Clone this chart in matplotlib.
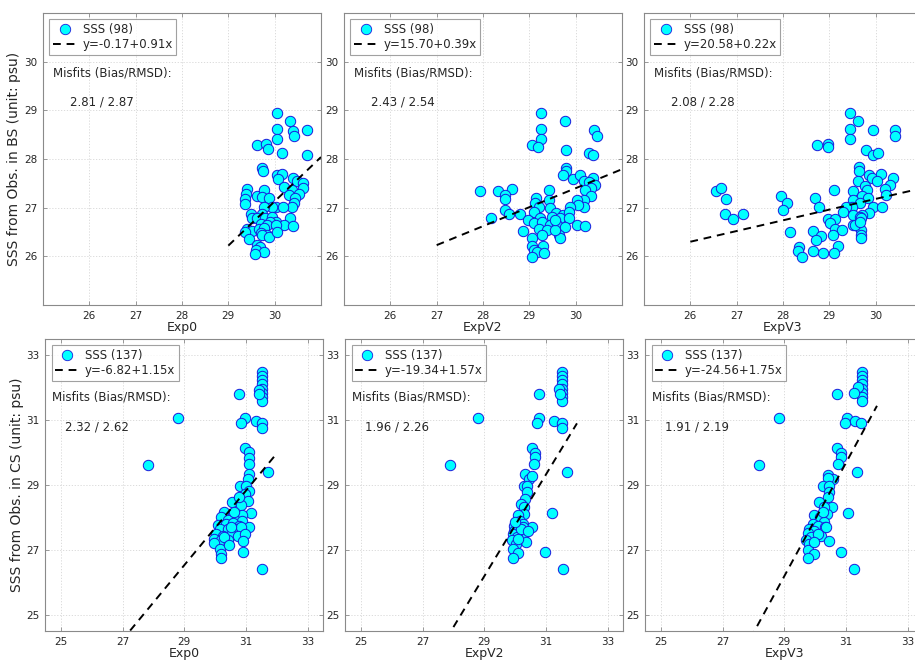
import matplotlib
matplotlib.use("Agg")
import matplotlib.pyplot as plt
from matplotlib.lines import Line2D

# ---------------- data ----------------
# Top row: BS observations (98 points)
bs_exp0_x = [30.04, 30.34, 30.04, 30.39, 30.41, 30.69, 30.04, 29.61, 29.82, 29.86, 30.15, 30.69,
             29.73, 29.75, 30.04, 30.16, 30.08, 30.40, 30.48, 30.61, 30.61, 30.20, 30.38, 30.52,
             30.31, 30.43, 30.41, 30.38, 29.40, 29.38, 29.35, 29.35, 29.62, 29.77, 29.73, 29.88,
             30.02, 30.18, 29.95, 29.77, 29.48, 29.50, 29.73, 29.62, 29.80, 29.95, 30.02, 29.91,
             29.70, 29.84, 30.34, 30.20, 30.40, 29.40, 29.50, 29.66, 29.78, 29.35, 29.70, 29.84,
             29.73, 29.45, 29.88, 29.62, 29.69, 29.59, 29.77, 29.57, 30.02, 30.06]
bs_exp0_y = [28.95, 28.78, 28.62, 28.58, 28.48, 28.60, 28.42, 28.28, 28.31, 28.20, 28.12, 28.09,
             27.81, 27.76, 27.67, 27.69, 27.58, 27.60, 27.54, 27.50, 27.40, 27.42, 27.36, 27.29,
             27.26, 27.19, 27.10, 27.01, 27.38, 27.28, 27.17, 27.08, 27.23, 27.36, 27.21, 27.19,
             27.01, 27.01, 27.01, 27.01, 26.88, 26.78, 26.88, 26.78, 26.78, 26.81, 26.71, 26.71,
             26.66, 26.64, 26.78, 26.64, 26.62, 26.57, 26.53, 26.57, 26.59, 26.51, 26.47, 26.44,
             26.44, 26.35, 26.40, 26.23, 26.20, 26.13, 26.09, 26.04, 26.64, 26.51]

bs_expv2_x = [29.25, 29.76, 29.25, 30.39, 30.45, 29.25, 29.06, 29.18, 29.80, 30.29, 30.38, 29.80,
              29.80, 29.73, 29.94, 30.09, 30.17, 30.38, 30.29, 30.42, 30.34, 30.20, 30.34, 30.17,
              30.02, 30.18, 30.04, 29.88, 27.93, 28.32, 28.62, 28.48, 28.48, 29.43, 29.14, 29.43,
              29.12, 29.20, 28.48, 28.57, 28.79, 28.17, 29.09, 29.45, 29.58, 29.72, 29.86, 29.48,
              29.66, 29.86, 29.23, 28.98, 29.09, 29.27, 29.45, 29.60, 29.77, 30.02, 30.20, 29.20,
              29.38, 28.86, 29.27, 29.65, 29.67, 29.05, 29.05, 29.30, 29.09, 29.16, 29.32, 29.05,
              29.55, 29.55]
bs_expv2_y = [28.95, 28.78, 28.62, 28.60, 28.48, 28.42, 28.28, 28.24, 28.19, 28.12, 28.09, 27.81,
              27.76, 27.67, 27.58, 27.67, 27.55, 27.60, 27.52, 27.47, 27.40, 27.36, 27.23, 27.16,
              27.16, 27.02, 27.05, 27.02, 27.34, 27.35, 27.39, 27.26, 27.17, 27.36, 27.19, 27.16,
              27.09, 27.01, 26.95, 26.88, 26.88, 26.78, 26.92, 26.99, 26.90, 26.85, 26.92, 26.81,
              26.78, 26.78, 26.78, 26.75, 26.68, 26.71, 26.64, 26.64, 26.61, 26.64, 26.62, 26.57,
              26.54, 26.53, 26.44, 26.44, 26.37, 26.37, 26.21, 26.21, 26.13, 26.09, 26.07, 25.99,
              26.54, 26.75]

bs_expv3_x = [29.44, 29.62, 29.44, 29.94, 30.41, 30.42, 29.44, 28.73, 28.97, 28.97, 29.80, 29.94,
              30.06, 29.63, 29.65, 29.86, 29.93, 30.11, 30.03, 30.37, 29.62, 29.78, 30.30, 30.21,
              30.23, 29.81, 29.51, 29.10, 29.71, 29.83, 29.51, 29.66, 29.48, 29.35, 29.94, 30.14,
              29.86, 29.71, 29.51, 29.30, 29.66, 29.69, 26.56, 26.67, 26.77, 26.75, 26.93, 27.13,
              27.95, 28.08, 28.00, 28.70, 28.78, 28.15, 28.97, 29.12, 29.01, 29.12, 29.27, 29.51,
              29.62, 29.69, 29.69, 29.69, 29.56, 29.08, 28.65, 28.83, 28.71, 29.19, 29.10, 28.87,
              28.64, 28.35, 28.33, 28.40, 29.66]
bs_expv3_y = [28.95, 28.78, 28.62, 28.60, 28.59, 28.48, 28.42, 28.28, 28.31, 28.24, 28.19, 28.08,
              28.12, 27.83, 27.76, 27.67, 27.60, 27.69, 27.55, 27.60, 27.54, 27.45, 27.47, 27.39,
              27.27, 27.36, 27.35, 27.36, 27.23, 27.19, 27.16, 27.09, 27.02, 27.01, 27.02, 27.01,
              26.90, 26.85, 26.85, 26.92, 26.80, 26.78, 27.35, 27.40, 27.18, 26.88, 26.77, 26.88,
              27.23, 27.09, 26.95, 27.19, 27.01, 26.51, 26.77, 26.76, 26.68, 26.57, 26.54, 26.64,
              26.62, 26.54, 26.44, 26.37, 26.64, 26.44, 26.53, 26.42, 26.33, 26.21, 26.07, 26.07,
              26.11, 26.20, 26.11, 25.99, 26.71]

# Bottom row: CS observations (137 points)
cs_exp0_x = [31.52, 31.52, 31.52, 31.52, 31.52, 31.52, 31.52, 31.52, 31.43, 31.41, 30.76, 28.80,
             27.83, 30.97, 30.82, 31.32, 31.52, 31.52, 30.95, 31.08, 31.09, 31.09, 31.70, 31.09,
             31.05, 30.81, 31.00, 31.11, 30.95, 31.05, 30.55, 30.84, 31.16, 30.30, 30.57, 30.87,
             30.19, 30.41, 30.68, 30.87, 30.08, 30.35, 30.57, 30.78, 31.09, 30.14, 30.41, 30.68,
             30.84, 30.03, 30.24, 30.51, 30.73, 30.95, 29.97, 30.19, 30.41, 30.91, 29.97, 30.30,
             30.14, 30.46, 30.89, 30.19, 30.19, 31.52, 30.51, 30.62, 30.78]
cs_exp0_y = [32.49, 32.36, 32.23, 32.11, 31.95, 31.85, 31.72, 31.59, 31.92, 31.80, 31.79, 31.08,
             29.62, 31.05, 30.90, 30.98, 30.90, 30.77, 30.14, 30.01, 29.83, 29.65, 29.39, 29.34,
             29.18, 28.96, 28.98, 28.83, 28.72, 28.52, 28.49, 28.39, 28.13, 28.16, 28.06, 28.09,
             28.01, 27.92, 27.90, 27.90, 27.78, 27.80, 27.82, 27.75, 27.70, 27.65, 27.65, 27.65,
             27.70, 27.49, 27.44, 27.47, 27.44, 27.49, 27.34, 27.31, 27.29, 27.26, 27.21, 27.39,
             27.03, 27.15, 26.95, 26.88, 26.75, 26.42, 27.70, 28.16, 28.62]

cs_expv2_x = [31.52, 31.52, 31.52, 31.52, 31.52, 31.52, 31.52, 31.52, 31.41, 31.45, 30.76, 28.78,
              30.78, 30.70, 31.26, 31.52, 31.52, 30.55, 30.63, 30.64, 30.60, 27.89, 31.67, 30.33,
              30.46, 30.54, 30.27, 30.38, 30.38, 30.33, 30.19, 30.27, 30.30, 31.19, 30.08, 30.14,
              30.24, 29.97, 30.55, 30.24, 29.97, 30.14, 29.92, 30.24, 30.05, 29.91, 30.35, 30.03,
              29.92, 30.10, 30.95, 29.92, 31.56, 30.19, 30.08, 30.41, 30.00]
cs_expv2_y = [32.49, 32.36, 32.23, 32.11, 31.95, 31.85, 31.72, 31.59, 31.95, 31.80, 31.79, 31.08,
              31.06, 30.90, 30.98, 30.90, 30.77, 30.14, 29.98, 29.85, 29.65, 29.62, 29.39, 29.34,
              29.18, 29.29, 28.96, 28.98, 28.77, 28.57, 28.42, 28.31, 28.11, 28.13, 28.06, 27.90,
              27.80, 27.75, 27.70, 27.70, 27.59, 27.54, 27.49, 27.44, 27.39, 27.29, 27.24, 27.18,
              27.03, 26.90, 26.95, 26.75, 26.42, 27.65, 27.34, 27.57, 27.85]

cs_expv3_x = [31.51, 31.51, 31.51, 31.51, 31.51, 31.51, 31.51, 31.51, 31.38, 31.27, 30.71, 28.82,
              31.02, 30.95, 31.30, 31.49, 30.70, 30.82, 30.82, 30.75, 28.19, 31.35, 30.43, 30.59,
              30.41, 30.26, 30.44, 30.46, 30.41, 30.11, 30.55, 30.39, 31.05, 29.97, 30.14, 30.30,
              29.92, 30.08, 30.33, 29.81, 29.97, 29.76, 30.19, 29.86, 30.08, 29.70, 30.46, 29.79,
              30.82, 29.76, 29.95, 29.76, 31.25, 30.30, 30.24, 29.95, 30.35]
cs_expv3_y = [32.49, 32.36, 32.23, 32.11, 31.95, 31.85, 31.72, 31.59, 32.01, 31.85, 31.79, 31.08,
              31.06, 30.90, 30.98, 30.90, 30.13, 29.98, 29.85, 29.65, 29.62, 29.39, 29.32, 29.18,
              29.22, 28.96, 28.98, 28.77, 28.62, 28.47, 28.31, 28.11, 28.13, 28.06, 28.01, 27.85,
              27.80, 27.75, 27.70, 27.65, 27.59, 27.51, 27.44, 27.39, 27.49, 27.31, 27.27, 27.18,
              26.95, 27.00, 26.88, 26.75, 26.42, 28.31, 28.16, 27.24, 27.70]

panel_names = ["Exp0", "ExpV2", "ExpV3"]
bs_counts = 98
cs_counts = 137
bs_fit = [(-0.17, 0.91), (15.70, 0.39), (20.58, 0.22)]
cs_fit = [(-6.82, 1.15), (-19.34, 1.57), (-24.56, 1.75)]
bs_fit_xrange = [(29, 31), (27, 31), (26, 31)]
cs_fit_xrange = [(24, 32), (24, 32), (24, 32)]
bs_misfits = ["2.81 / 2.87", "2.43 / 2.54", "2.08 / 2.28"]
cs_misfits = ["2.32 / 2.62", "1.96 / 2.26", "1.91 / 2.19"]
bs_ticks = [26, 27, 28, 29, 30]
cs_ticks = [25, 27, 29, 31, 33]

bs_x = [bs_exp0_x, bs_expv2_x, bs_expv3_x]
bs_y = [bs_exp0_y, bs_expv2_y, bs_expv3_y]
cs_x = [cs_exp0_x, cs_expv2_x, cs_expv3_x]
cs_y = [cs_exp0_y, cs_expv2_y, cs_expv3_y]

# ---------------- figure ----------------
plt.rcParams['font.family'] = ['DejaVu Sans']
fig = plt.figure(figsize=(9.15, 6.61), dpi=100)
W, H = 915.0, 661.0

spine_c = '#8a8a8a'
text_c = '#262626'
face_c = '#00ffff'
edge_c = '#1a1adc'


def style(ax, lims, ticks):
    ax.set_xlim(lims)
    ax.set_ylim(lims)
    ax.set_xticks(ticks)
    ax.set_yticks(ticks)
    ax.grid(True, linestyle=(0, (1.5, 2.0)), color='#d6d6d6', linewidth=0.6)
    ax.set_axisbelow(True)
    for s in ax.spines.values():
        s.set_color(spine_c)
        s.set_linewidth(0.8)
    ax.tick_params(direction='in', length=3, width=0.6, color=spine_c,
                   labelsize=7.5, labelcolor=text_c, top=True, right=True, pad=4)


def panel(ax, x, y, fit, xr, count, misfit, xlabel, ylabel, lims, ticks, txt_pos):
    style(ax, lims, ticks)
    ax.scatter(x, y, s=56, facecolor=face_c, edgecolor=edge_c, linewidth=0.7, zorder=3)
    a, b = fit
    xs = list(xr)
    ys = [a + b * v for v in xs]
    ax.plot(xs, ys, color='black', linestyle=(0, (4, 3)), linewidth=1.4, zorder=4)
    handles = [Line2D([], [], marker='o', linestyle='none', markersize=7.5,
                      markerfacecolor=face_c, markeredgecolor=edge_c, markeredgewidth=0.6),
               Line2D([], [], color='black', linestyle=(0, (4, 3)), linewidth=1.4)]
    labels = [f"SSS ({count})", f"y={a:.2f}+{b:.2f}x"]
    leg = ax.legend(handles, labels, loc='upper left', fontsize=8.5, frameon=True,
                    fancybox=False, borderpad=0.3, handlelength=2.0, handletextpad=0.5,
                    labelspacing=0.2, borderaxespad=0.55)
    leg.get_frame().set_edgecolor(spine_c)
    leg.get_frame().set_linewidth(0.8)
    for t in leg.get_texts():
        t.set_color(text_c)
    (mx, my), (vx, vy) = txt_pos
    ax.text(mx, my, "Misfits (Bias/RMSD):", transform=ax.transAxes, fontsize=8.5,
            color=text_c, va='center', ha='left')
    ax.text(vx, vy, misfit, transform=ax.transAxes, fontsize=8.5,
            color=text_c, va='center', ha='left')
    ax.set_xlabel(xlabel, fontsize=9, color=text_c, labelpad=0)
    if ylabel:
        ax.set_ylabel(ylabel, fontsize=10, color=text_c, labelpad=2)


top_lefts = [43, 344, 644]
bot_lefts = [45.3, 345.3, 645.3]
aw, ah = 278.0, 292.0
for i in range(3):
    ax = fig.add_axes([top_lefts[i] / W, (H - 305) / H, aw / W, ah / H])
    panel(ax, bs_x[i], bs_y[i], bs_fit[i], bs_fit_xrange[i], bs_counts, bs_misfits[i],
          panel_names[i], "SSS from Obs. in BS (unit: psu)" if i == 0 else None,
          (25, 31), bs_ticks, ((0.036, 0.795), (0.097, 0.695)))
for i in range(3):
    ax = fig.add_axes([bot_lefts[i] / W, (H - 631) / H, aw / W, ah / H])
    panel(ax, cs_x[i], cs_y[i], cs_fit[i], cs_fit_xrange[i], cs_counts, cs_misfits[i],
          panel_names[i], "SSS from Obs. in CS (unit: psu)" if i == 0 else None,
          (24.5, 33.5), cs_ticks, ((0.025, 0.80), (0.072, 0.70)))

fig.savefig("out.png", dpi=100)
